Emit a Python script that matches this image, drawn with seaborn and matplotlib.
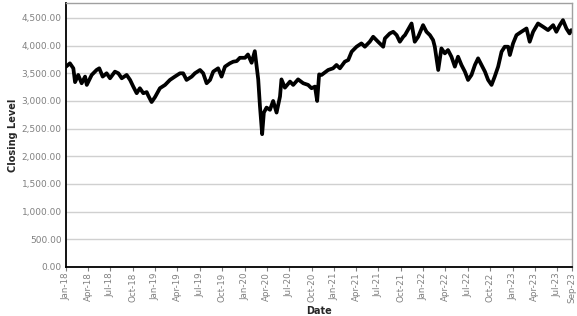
import matplotlib
matplotlib.use("Agg")
import matplotlib.pyplot as plt
import matplotlib.dates as mdates
from matplotlib.ticker import FuncFormatter
import seaborn as sns
import pandas as pd

dates = [
    "2018-01-01", "2018-01-17", "2018-01-31", "2018-02-07", "2018-02-20", "2018-03-06",
    "2018-03-20", "2018-03-27", "2018-04-16", "2018-05-06", "2018-05-17", "2018-05-31",
    "2018-06-16", "2018-06-30", "2018-07-20", "2018-08-03", "2018-08-17", "2018-09-06",
    "2018-09-20", "2018-10-03", "2018-10-17", "2018-10-30", "2018-11-13", "2018-11-27",
    "2018-12-03", "2018-12-17", "2018-12-31", "2019-01-20", "2019-02-10", "2019-03-02",
    "2019-03-22", "2019-04-12", "2019-04-25", "2019-05-09", "2019-05-30", "2019-06-12",
    "2019-07-03", "2019-07-16", "2019-07-30", "2019-08-13", "2019-08-26", "2019-09-15",
    "2019-09-29", "2019-10-13", "2019-11-02", "2019-11-16", "2019-11-30", "2019-12-13",
    "2020-01-03", "2020-01-15", "2020-01-30", "2020-02-12", "2020-02-26", "2020-03-04",
    "2020-03-13", "2020-03-20", "2020-03-31", "2020-04-14", "2020-04-27", "2020-05-11",
    "2020-05-25", "2020-05-31", "2020-06-14", "2020-07-05", "2020-07-18", "2020-08-07",
    "2020-08-28", "2020-09-17", "2020-10-01", "2020-10-15", "2020-10-24", "2020-11-01",
    "2020-11-11", "2020-12-08", "2020-12-28", "2021-01-11", "2021-01-25", "2021-02-14",
    "2021-02-28", "2021-03-14", "2021-04-03", "2021-04-23", "2021-05-07", "2021-05-27",
    "2021-06-10", "2021-06-30", "2021-07-21", "2021-07-28", "2021-08-17", "2021-08-31",
    "2021-09-14", "2021-09-27", "2021-10-11", "2021-10-18", "2021-11-14", "2021-11-27",
    "2021-12-11", "2021-12-31", "2022-01-14", "2022-01-28", "2022-02-10", "2022-02-17",
    "2022-03-03", "2022-03-16", "2022-03-30", "2022-04-12", "2022-04-26", "2022-05-10",
    "2022-05-23", "2022-06-06", "2022-06-20", "2022-07-03", "2022-07-17", "2022-07-31",
    "2022-08-13", "2022-08-27", "2022-09-10", "2022-09-23", "2022-10-07", "2022-10-20",
    "2022-11-03", "2022-11-17", "2022-11-30", "2022-12-14", "2022-12-21", "2023-01-03",
    "2023-01-17", "2023-02-06", "2023-02-27", "2023-03-12", "2023-03-26", "2023-04-15",
    "2023-05-06", "2023-05-26", "2023-06-16", "2023-06-29", "2023-07-13", "2023-07-26",
    "2023-08-09", "2023-08-22", "2023-08-29",
]

closing_level = [
    3620, 3680, 3590, 3340, 3470, 3320,
    3440, 3290, 3470, 3560, 3590, 3440,
    3500, 3410, 3530, 3500, 3410, 3470,
    3380, 3260, 3140, 3230, 3140, 3160,
    3100, 2980, 3070, 3230, 3290, 3380,
    3440, 3500, 3500, 3380, 3440, 3500,
    3560, 3500, 3320, 3380, 3530, 3590,
    3440, 3620, 3680, 3710, 3720, 3780,
    3780, 3840, 3690, 3900, 3390, 2910,
    2400, 2790, 2880, 2840, 3000, 2790,
    3080, 3390, 3240, 3350, 3290, 3390,
    3320, 3290, 3230, 3260, 3000, 3480,
    3470, 3560, 3590, 3650, 3590, 3710,
    3740, 3890, 3980, 4040, 3980, 4070,
    4160, 4070, 3980, 4130, 4220, 4250,
    4190, 4070, 4160, 4190, 4400, 4070,
    4160, 4370, 4250, 4190, 4100, 3980,
    3560, 3950, 3860, 3920, 3800, 3620,
    3800, 3650, 3530, 3380, 3470, 3650,
    3770, 3650, 3530, 3380, 3290, 3440,
    3620, 3890, 3980, 3980, 3830, 4040,
    4190, 4250, 4310, 4070, 4250, 4400,
    4340, 4280, 4370, 4250, 4370, 4460,
    4310, 4220, 4280,
]

tick_dates = [
    "2018-01-01", "2018-04-01", "2018-07-01", "2018-10-01",
    "2019-01-01", "2019-04-01", "2019-07-01", "2019-10-01",
    "2020-01-01", "2020-04-01", "2020-07-01", "2020-10-01",
    "2021-01-01", "2021-04-01", "2021-07-01", "2021-10-01",
    "2022-01-01", "2022-04-01", "2022-07-01", "2022-10-01",
    "2023-01-01", "2023-04-01", "2023-07-01", "2023-09-01",
]
y_ticks = [0, 500, 1000, 1500, 2000, 2500, 3000, 3500, 4000, 4500]

sns.set_style("white")
plt.rcParams["font.family"] = ["DejaVu Sans"]

df = pd.DataFrame({"Date": pd.to_datetime(dates), "Closing Level": closing_level})

fig = plt.figure(figsize=(5.77, 3.16), dpi=100)
ax = fig.add_axes([66 / 577, 1 - 267 / 316, (572 - 66) / 577, (267 - 3) / 316])

ax.grid(axis="y", color="#d0d0d0", linewidth=1.0)
ax.set_axisbelow(True)

sns.lineplot(data=df, x="Date", y="Closing Level", ax=ax, color="black",
             linewidth=2.7, solid_joinstyle="round")

ax.set_xlim(pd.Timestamp("2018-01-01"), pd.Timestamp("2023-09-01"))
ax.set_ylim(0, 4770)
ax.set_yticks(y_ticks)
ax.yaxis.set_major_formatter(FuncFormatter(lambda v, p: f"{v:,.2f}"))
ax.set_xticks(pd.to_datetime(tick_dates))
ax.xaxis.set_major_formatter(mdates.DateFormatter("%b-%y"))

ax.tick_params(axis="x", labelsize=6.3, labelcolor="#808080", rotation=90,
               length=3, width=0.8, color="#808080", pad=1, bottom=True)
ax.tick_params(axis="y", labelsize=6.5, labelcolor="#808080", length=0, pad=3)

for s in ["left", "bottom"]:
    ax.spines[s].set_color("black")
    ax.spines[s].set_linewidth(1.3)
for s in ["top", "right"]:
    ax.spines[s].set_color("#a0a0a0")
    ax.spines[s].set_linewidth(1.0)

ax.set_xlabel("Date", fontsize=7, fontweight="bold", labelpad=2)
ax.set_ylabel("Closing Level", fontsize=7, fontweight="bold", labelpad=3)

fig.savefig("out.png", dpi=100)
